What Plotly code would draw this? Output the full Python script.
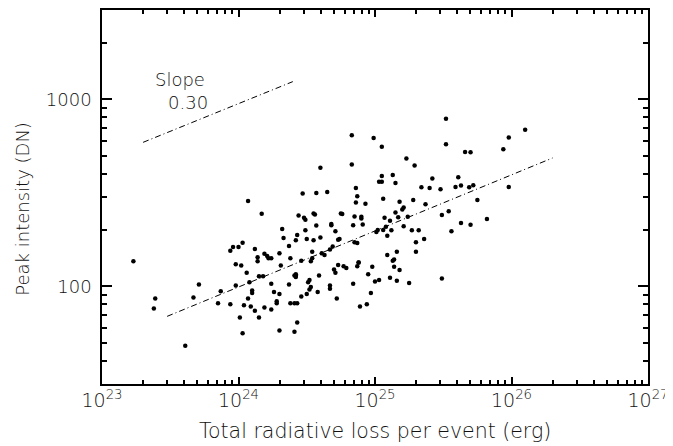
import plotly.graph_objects as go

# log10 of total radiative loss (erg) and peak intensity (DN)
log_energy = [
    23.23, 23.38, 23.39, 23.61, 23.67, 23.71, 23.85, 23.87, 23.94, 23.94,
    23.96, 23.98, 23.98, 24.00, 24.01, 24.02, 24.03, 24.03, 24.04, 24.06,
    24.07, 24.07, 24.08, 24.09, 24.10, 24.10, 24.12, 24.12, 24.14, 24.14,
    24.15, 24.15, 24.17, 24.18, 24.19, 24.19, 24.21, 24.22, 24.24, 24.24,
    24.24, 24.26, 24.28, 24.28, 24.30, 24.30, 24.30, 24.31, 24.32, 24.33,
    24.37, 24.37, 24.38, 24.38, 24.41, 24.41, 24.41, 24.42, 24.42, 24.42,
    24.42, 24.43, 24.43, 24.43, 24.44, 24.46, 24.46, 24.47, 24.48, 24.49,
    24.49, 24.50, 24.50, 24.51, 24.52, 24.52, 24.53, 24.53, 24.54, 24.54,
    24.55, 24.55, 24.56, 24.57, 24.57, 24.58, 24.59, 24.60, 24.60, 24.61,
    24.63, 24.65, 24.67, 24.67, 24.67, 24.68, 24.68, 24.69, 24.70, 24.71,
    24.71, 24.72, 24.73, 24.73, 24.74, 24.75, 24.76, 24.77, 24.79, 24.83,
    24.83, 24.84, 24.84, 24.85, 24.85, 24.86, 24.86, 24.87, 24.87, 24.87,
    24.88, 24.88, 24.89, 24.90, 24.90, 24.91, 24.93, 24.94, 24.95, 24.97,
    24.98, 24.99, 25.00, 25.01, 25.02, 25.03, 25.03, 25.05, 25.05, 25.05,
    25.06, 25.06, 25.07, 25.08, 25.09, 25.09, 25.11, 25.11, 25.12, 25.13,
    25.13, 25.14, 25.14, 25.15, 25.15, 25.16, 25.16, 25.17, 25.18, 25.18,
    25.20, 25.21, 25.21, 25.23, 25.24, 25.25, 25.27, 25.28, 25.29, 25.30,
    25.30, 25.32, 25.34, 25.36, 25.37, 25.40, 25.42, 25.48, 25.49, 25.49,
    25.52, 25.52, 25.54, 25.56, 25.59, 25.61, 25.63, 25.63, 25.66, 25.69,
    25.70, 25.70, 25.72, 25.75, 25.82, 25.94, 25.98, 25.98, 26.10,
]
peak_dn = [
    136, 76, 86, 48, 87, 102, 81, 94, 80, 155,
    162, 131, 101, 162, 68, 129, 171, 56, 79, 118,
    286, 86, 105, 78, 95, 92, 74, 158, 143, 136,
    68, 113, 244, 113, 77, 149, 145, 141, 141, 75,
    103, 93, 81, 83, 91, 58, 150, 129, 202, 181,
    102, 164, 81, 141, 81, 57, 114, 114, 112, 116,
    176, 188, 81, 64, 239, 137, 88, 313, 232, 227,
    199, 91, 179, 105, 108, 96, 99, 136, 141, 153,
    176, 245, 242, 211, 315, 93, 114, 430, 182, 150,
    147, 319, 101, 97, 157, 215, 212, 163, 123, 118,
    197, 86, 130, 177, 179, 245, 243, 128, 125, 641,
    447, 103, 212, 236, 172, 335, 280, 303, 170, 128,
    134, 134, 78, 235, 230, 214, 276, 80, 116, 92,
    127, 621, 106, 195, 200, 362, 108, 362, 557, 389,
    200, 294, 232, 208, 186, 147, 224, 111, 199, 137,
    393, 139, 127, 356, 248, 107, 153, 234, 122, 283,
    257, 209, 264, 482, 235, 104, 199, 289, 442, 172,
    153, 199, 338, 179, 274, 335, 377, 330, 240, 110,
    574, 786, 252, 197, 339, 382, 218, 346, 522, 338,
    521, 213, 347, 289, 229, 540, 625, 339, 687,
]
energy = [10 ** v for v in log_energy]

# fitted power law and the reference slope line (end points)
fit_energy = [3.0e23, 2.0e26]
fit_peak = [69, 485]
ref_energy = [2.0e23, 2.5e24]
ref_peak = [588, 1242]

x_tickvals = [1e23, 1e24, 1e25, 1e26, 1e27]
x_ticktext = ["10<sup>23</sup>", "10<sup>24</sup>", "10<sup>25</sup>",
              "10<sup>26</sup>", "10<sup>27</sup>"]
y_tickvals = [100, 1000]
y_ticktext = ["100", "1000"]

x_minor = [k * 10.0 ** e for e in range(23, 27) for k in range(2, 10)]
y_minor = [k * 10.0 ** e for e in range(1, 4) for k in range(2, 10)]

X_RANGE = [23, 27]
Y_RANGE = [1.4771, 3.4771]
FONT = "DejaVu Sans"
INK = "#111111"


def txt(size):
    return dict(size=size, color=INK, family=FONT, weight=200)


fig = go.Figure()
fig.add_trace(go.Scatter(
    x=energy, y=peak_dn, mode="markers",
    marker=dict(color="black", size=4.5, line=dict(width=0)),
))
# dash-dot lines sit on the overlay axes that carry the minor ticks
for xs, ys in ((fit_energy, fit_peak), (ref_energy, ref_peak)):
    fig.add_trace(go.Scatter(
        x=xs, y=ys, mode="lines", xaxis="x2", yaxis="y2",
        line=dict(color="black", width=1, dash="6px,3px,1px,3px"),
    ))

fig.add_annotation(x=0.094, y=0.815, xref="paper", yref="paper", text="Slope",
                   showarrow=False, xanchor="left", yanchor="middle",
                   font=txt(18))
fig.add_annotation(x=0.118, y=0.753, xref="paper", yref="paper", text="0.30",
                   showarrow=False, xanchor="left", yanchor="middle",
                   font=txt(18))

# axis titles placed by hand so the plot area does not move
fig.add_annotation(x=0.5, y=-0.088, xref="paper", yref="paper",
                   text="Total radiative loss per event (erg)",
                   showarrow=False, xanchor="center", yanchor="top",
                   font=txt(20.5))
fig.add_annotation(x=-0.1685, y=0.47, xref="paper", yref="paper",
                   text="Peak intensity (DN)", textangle=-90,
                   showarrow=False, xanchor="left", yanchor="middle",
                   font=txt(18))

axis_common = dict(
    ticks="inside", tickcolor="black", tickwidth=2, mirror="allticks",
    showgrid=False, zeroline=False, automargin=False, layer="above traces",
    tickmode="array",
)
fig.update_layout(
    xaxis=dict(
        type="log", range=X_RANGE,
        showline=True, linecolor="black", linewidth=1.5,
        tickvals=x_tickvals, ticktext=x_ticktext, ticklen=7,
        tickfont=txt(19), ticklabeloverflow="allow", ticklabelstandoff=-2,
        **axis_common,
    ),
    yaxis=dict(
        type="log", range=Y_RANGE,
        showline=True, linecolor="black", linewidth=1.5,
        tickvals=y_tickvals, ticktext=y_ticktext, ticklen=10,
        tickfont=txt(18), ticklabeloverflow="allow", ticklabelstandoff=5,
        **axis_common,
    ),
    xaxis2=dict(
        type="log", range=X_RANGE, overlaying="x", side="bottom",
        showline=False, showticklabels=False,
        tickvals=x_minor, ticklen=4,
        **axis_common,
    ),
    yaxis2=dict(
        type="log", range=Y_RANGE, overlaying="y", side="left",
        showline=False, showticklabels=False,
        tickvals=y_minor, ticklen=5,
        **axis_common,
    ),
)
# the page body keeps an 8px margin: shrink the figure and shift left/top
fig.update_layout(
    width=665, height=438,
    margin=dict(l=94, r=25, t=2, b=62),
    plot_bgcolor="white", paper_bgcolor="white",
    showlegend=False,
)
fig.write_html("out.html")
